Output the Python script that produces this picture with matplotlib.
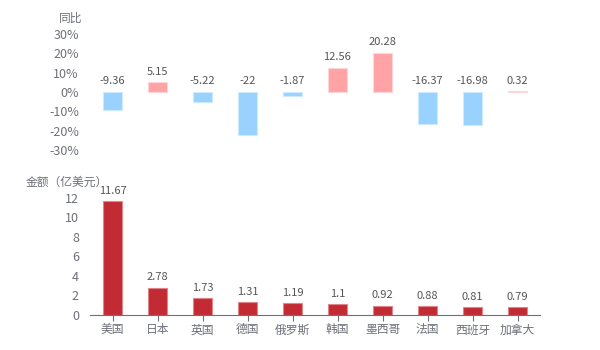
import numpy as np
import matplotlib
matplotlib.use('Agg')
import matplotlib.pyplot as plt

plt.rcParams['font.family'] = ['Noto Sans CJK SC', 'DejaVu Sans']

# données
pays = ['美国', '日本', '英国', '德国', '俄罗斯', '韩国', '墨西哥', '法国', '西班牙', '加拿大']
tongbi = [-9.36, 5.15, -5.22, -22, -1.87, 12.56, 20.28, -16.37, -16.98, 0.32]
tongbi_labels = ['-9.36', '5.15', '-5.22', '-22', '-1.87', '12.56', '20.28', '-16.37', '-16.98', '0.32']
jine = [11.67, 2.78, 1.73, 1.31, 1.19, 1.1, 0.92, 0.88, 0.81, 0.79]
jine_labels = ['11.67', '2.78', '1.73', '1.31', '1.19', '1.1', '0.92', '0.88', '0.81', '0.79']
ticks_top = [-30, -20, -10, 0, 10, 20, 30]
ticks_bot = [0, 2, 4, 6, 8, 10, 12]

gris = '#6E7079'
texte = '#555555'
x = np.arange(len(pays))
w = 0.44

fig = plt.figure(figsize=(6, 3.5), dpi=100)
ax1 = fig.add_axes([0.15, 0.5714, 0.75, 0.3314])
ax2 = fig.add_axes([0.15, 0.10, 0.75, 0.3343])

# graphique du haut : 同比
couleurs = ['#FFA3A6' if v >= 0 else '#99D2FF' for v in tongbi]
bords = ['#FFD6D8' if v >= 0 else '#CDEAFF' for v in tongbi]
ax1.bar(x, tongbi, width=w, color=couleurs, edgecolor=bords, linewidth=0.8)
for xi, v, lab in zip(x, tongbi, tongbi_labels):
    ax1.annotate(lab, (xi, max(v, 0)), xytext=(0, 4), textcoords='offset points',
                 ha='center', va='bottom', fontsize=8, color=texte)
ax1.set_xlim(-0.5, len(pays) - 0.5)
ax1.set_ylim(-30, 30)
ax1.set_yticks(ticks_top)
ax1.set_yticklabels(['{}%'.format(t) for t in ticks_top])
ax1.set_xticks([])
for s in ax1.spines.values():
    s.set_visible(False)
ax1.tick_params(axis='y', length=0, pad=8, labelsize=9, labelcolor=gris)

# graphique du bas : 金额
ax2.bar(x, jine, width=w, color='#C32B34', edgecolor='#E0868B', linewidth=0.8)
for xi, v, lab in zip(x, jine, jine_labels):
    ax2.annotate(lab, (xi, v), xytext=(0, 4), textcoords='offset points',
                 ha='center', va='bottom', fontsize=8, color=texte)
ax2.set_xlim(-0.5, len(pays) - 0.5)
ax2.set_ylim(0, 12)
ax2.set_yticks(ticks_bot)
ax2.set_xticks(x)
ax2.set_xticklabels(pays)
for k in ['top', 'right', 'left']:
    ax2.spines[k].set_visible(False)
ax2.spines['bottom'].set_color(gris)
ax2.tick_params(axis='y', length=0, pad=8, labelsize=9, labelcolor=gris)
ax2.tick_params(axis='x', length=4, color=gris, pad=2, labelsize=8.5, labelcolor=gris)

fig.text(82 / 600, 1 - 18 / 350, '同比', ha='right', va='center', fontsize=8.5, color=gris)
fig.text(26 / 600, 1 - 182 / 350, '金额（亿美元）', ha='left', va='center', fontsize=8.5, color=gris)

fig.savefig('out.png', dpi=100)
